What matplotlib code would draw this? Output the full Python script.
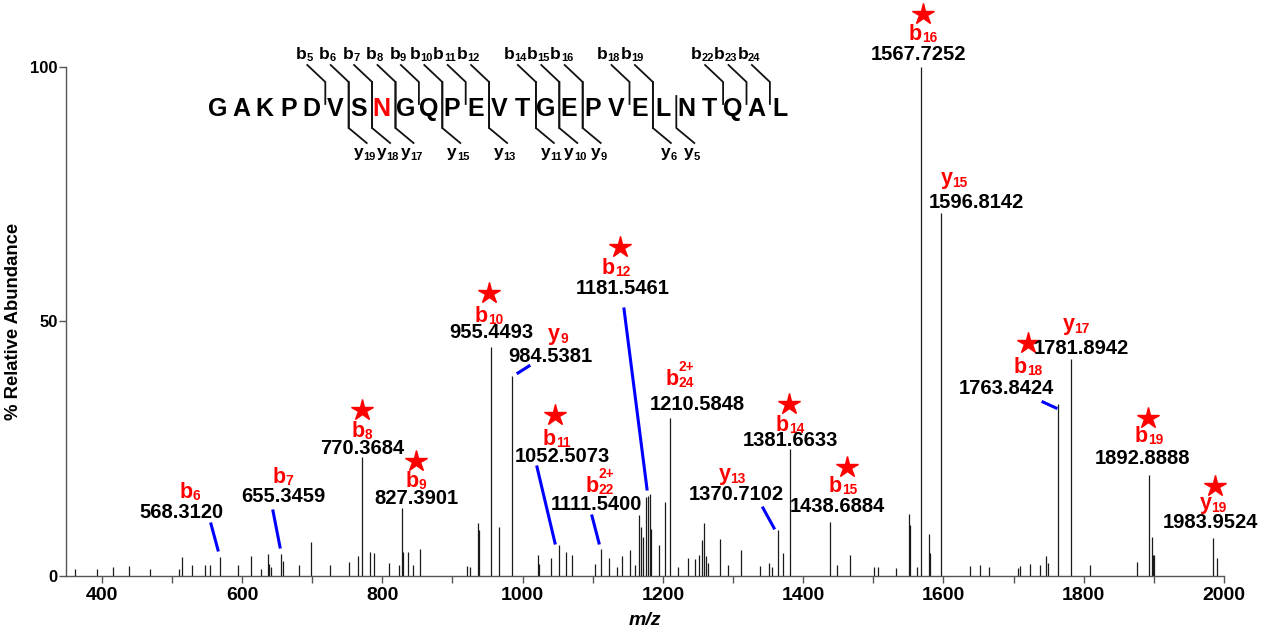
import matplotlib
matplotlib.use("Agg")
import matplotlib.pyplot as plt
from matplotlib.ticker import MultipleLocator

plt.rcParams['font.family'] = ['Liberation Sans', 'DejaVu Sans']
plt.rcParams['font.weight'] = 'bold'

# spectrum peaks (m/z, % relative abundance)
peak_mz = [362, 393.4, 415.3, 438.6, 469, 510.8, 514.2, 529.3, 547, 554,
           568.31, 594.9, 613, 626.8, 636.8, 639, 641, 655.35, 659, 681,
           699, 725.6, 752.7, 765, 770.37, 782.6, 788.3, 809.2, 824.4, 827.39,
           830, 836.3, 844, 853.9, 920.4, 925, 937, 938.5, 955.45, 967,
           984.54, 1022.5, 1024, 1040, 1052.51, 1061.6, 1070, 1103.4, 1111.54, 1123.8,
           1134, 1141.4, 1153.2, 1160, 1166.5, 1168.4, 1171.3, 1175.6, 1178.5, 1181.55,
           1183.5, 1194.7, 1203.2, 1210.58, 1221, 1236.4, 1246, 1252, 1255.4, 1258.7,
           1261.5, 1264, 1281.5, 1293.5, 1311.5, 1338.5, 1351.8, 1355, 1364.7, 1370.71,
           1381.66, 1438.69, 1448.8, 1466.9, 1501, 1507.2, 1532.4, 1551, 1552.5, 1562,
           1567.73, 1579.9, 1581, 1596.81, 1637.9, 1652, 1665, 1705.7, 1709, 1723.9,
           1737.7, 1745.8, 1748.6, 1763.84, 1781.89, 1808.8, 1875.6, 1892.89, 1897, 1898.5,
           1900, 1983.95, 1989.6]
peak_int = [1.2, 1.3, 1.6, 1.8, 1.3, 1.3, 3.7, 2.0, 2.1, 2.0,
            3.6, 2.0, 3.8, 1.2, 4.2, 2.3, 1.7, 4.2, 2.9, 2.0,
            6.5, 2.0, 2.6, 3.8, 23.4, 4.6, 4.5, 2.4, 2.0, 13.2,
            4.6, 4.7, 2.0, 5.2, 1.9, 1.6, 10.4, 9.0, 45.0, 9.5,
            39.3, 4.1, 2.3, 3.5, 5.9, 4.6, 4.1, 2.3, 5.3, 3.4,
            1.7, 3.9, 5.0, 2.0, 11.8, 9.5, 7.6, 15.5, 15.6, 16.0,
            9.2, 6.0, 14.5, 30.9, 1.7, 3.5, 3.2, 4.0, 7.0, 10.4,
            3.8, 2.5, 7.2, 2.0, 5.0, 1.8, 2.4, 1.6, 8.9, 4.5,
            24.8, 10.6, 2.0, 4.1, 1.7, 1.7, 1.5, 12.1, 10.0, 1.7,
            100, 8.2, 4.4, 71.3, 1.9, 2.0, 1.7, 1.4, 1.9, 2.2,
            2.0, 3.8, 2.5, 33.7, 42.5, 2.0, 2.6, 19.8, 7.6, 4.0,
            4.0, 7.4, 3.5]

# annotated fragment ions: (type, index, charge superscript)
ion_type = ['b', 'b', 'b', 'b', 'b', 'y', 'b', 'b', 'b', 'b', 'y', 'b', 'b',
            'b', 'y', 'b', 'y', 'b', 'y']
ion_index = ['6', '7', '8', '9', '10', '9', '11', '22', '12', '24', '13', '14', '15',
             '16', '15', '18', '17', '19', '19']
ion_charge = ['', '', '', '', '', '', '', '2+', '', '2+', '', '', '',
              '', '', '', '', '', '']
ion_mz = ['568.3120', '655.3459', '770.3684', '827.3901', '955.4493', '984.5381', '1052.5073',
          '1111.5400', '1181.5461', '1210.5848', '1370.7102', '1381.6633', '1438.6884',
          '1567.7252', '1596.8142', '1763.8424', '1781.8942', '1892.8888', '1983.9524']
ion_star = [False, False, True, True, True, False, True,
            False, True, False, False, True, True,
            True, False, True, False, True, True]

# peptide sequence and observed cleavages
sequence = "GAKPDVSNGQPEVTGEPVELNTQAL"
red_residue = 7
b_sites = [5, 6, 7, 8, 9, 10, 11, 12, 14, 15, 16, 18, 19, 22, 23, 24]
y_sites = [19, 18, 17, 15, 13, 11, 10, 9, 6, 5]

# label layout in figure pixels: (star xy, ion label xy, number xy, leader line)
layout = [
    (None, (190, 490), (181, 513), ((211, 524), (218, 550))),
    (None, (283, 475), (283, 497), ((273, 511), (280, 547))),
    ((362, 410), (362, 429), (362, 449), None),
    ((416, 461), (416, 479), (416, 498), None),
    ((489, 293), (489, 314), (491, 333), None),
    (None, (558, 336), (550, 356), ((518, 373), (529, 366))),
    ((555, 415), (557, 437), (562, 457), ((537, 467), (555, 543))),
    (None, (600, 484), (596, 505), ((592, 516), (599, 543))),
    ((620, 247), (616, 266), (623, 289), ((624, 309), (647, 489))),
    (None, (680, 377), (697, 405), None),
    (None, (732, 476), (736, 495), ((763, 508), (774, 528))),
    ((789, 404), (790, 423), (790, 441), None),
    ((847, 467), (843, 484), (837, 506), None),
    ((923, 14), (923, 32), (919, 54), None),
    (None, (954, 180), (976, 203), None),
    ((1028, 343), (1028, 365), (1006, 389), ((1043, 402), (1056, 408))),
    (None, (1076, 326), (1081, 349), None),
    ((1148, 418), (1149, 434), (1143, 459), None),
    ((1215, 486), (1213, 505), (1210, 523), None),
]

W, H = 1270, 631
fig = plt.figure(figsize=(W / 100, H / 100), dpi=100)
ax = fig.add_axes([66 / W, 1 - 575.5 / H, (1224 - 66) / W, (575.5 - 67) / H])

ax.vlines(peak_mz, 0, peak_int, color='#1a1a1a', lw=0.9)
ax.set_xlim(349, 2000)
ax.set_ylim(0, 100)
for s in ['top', 'right']:
    ax.spines[s].set_visible(False)
for s in ['left', 'bottom']:
    ax.spines[s].set_color('#555555')
    ax.spines[s].set_linewidth(1)
ax.set_xticks(range(400, 2001, 200))
ax.xaxis.set_minor_locator(MultipleLocator(100))
ax.set_yticks([0, 50, 100])
ax.tick_params(which='both', direction='out', length=5, width=1, color='#555555',
               labelsize=14, pad=3)
ax.tick_params(axis='y', labelsize=12, pad=1)
for lab in ax.get_xticklabels() + ax.get_yticklabels():
    lab.set_fontweight('bold')
ax.set_xlabel('m/z', fontsize=14, fontweight='bold', style='italic', labelpad=6)
ax.set_ylabel('% Relative Abundance', fontsize=13.3, fontweight='bold', labelpad=6)

# overlay in pixel coordinates for annotations
ov = fig.add_axes([0, 0, 1, 1])
ov.set_xlim(0, W)
ov.set_ylim(H, 0)
ov.axis('off')


def ion_label(cx, cy, letter, sub, sup='', size=15, color='red'):
    # letter with a small subscript (and optional superscript), centred on (cx, cy)
    em = size * 100 / 72
    ssz = size * 0.64
    wl = (0.611 if letter == 'b' else 0.556) * em
    ws = 0.556 * len(sub) * ssz * 100 / 72
    wp = 0.6 * len(sup) * ssz * 100 / 72
    left = cx - (wl + max(ws, wp)) / 2
    base = cy + (0.36 if letter == 'b' else 0.2) * em
    ov.text(left, base, letter, fontsize=size, color=color, ha='left', va='baseline')
    ov.text(left + wl, base + 0.12 * em, sub, fontsize=ssz, color=color,
            ha='left', va='baseline')
    if sup:
        ov.text(left + wl, base - 0.62 * em, sup, fontsize=ssz, color=color,
                ha='left', va='baseline')


for t, idx, chg, num, star, (sxy, lxy, nxy, line) in zip(ion_type, ion_index, ion_charge,
                                                          ion_mz, ion_star, layout):
    if star and sxy is not None:
        ov.plot(sxy[0], sxy[1], marker='*', ms=16, color='red', mec='red')
    ion_label(lxy[0], lxy[1], t, idx, chg, size=15.5)
    ov.text(nxy[0], nxy[1], num, color='black', fontsize=14.5, fontweight='bold',
            ha='center', va='center')
    if line is not None:
        ov.plot([line[0][0], line[1][0]], [line[0][1], line[1][1]], color='#0000ff', lw=2.2)

# peptide sequence with fragment brackets
x0, d, ymid = 218, 23.4, 109
for k, aa in enumerate(sequence):
    ov.text(x0 + k * d, ymid, aa, fontsize=18, fontweight='bold', ha='center', va='center',
            color='red' if k == red_residue else 'black')

line_kw = dict(color='#111111', lw=1.3)
n = len(sequence)
for i in range(1, n):
    xs = x0 + (i - 0.5) * d + 2
    has_b = i in b_sites
    has_y = (n - i) in y_sites
    if has_b:
        ybot = 128 if has_y else 104
        ov.plot([xs - 18, xs, xs], [65, 82, ybot], **line_kw)
        ion_label(xs - 21, 53, 'b', str(i), size=12.5, color='black')
    if has_y:
        ytop = 82 if has_b else 96
        ov.plot([xs, xs, xs + 18], [ytop, 128, 143], **line_kw)
        ion_label(xs + 16, 154, 'y', str(n - i), size=12.5, color='black')

fig.savefig('out.png', dpi=100)
